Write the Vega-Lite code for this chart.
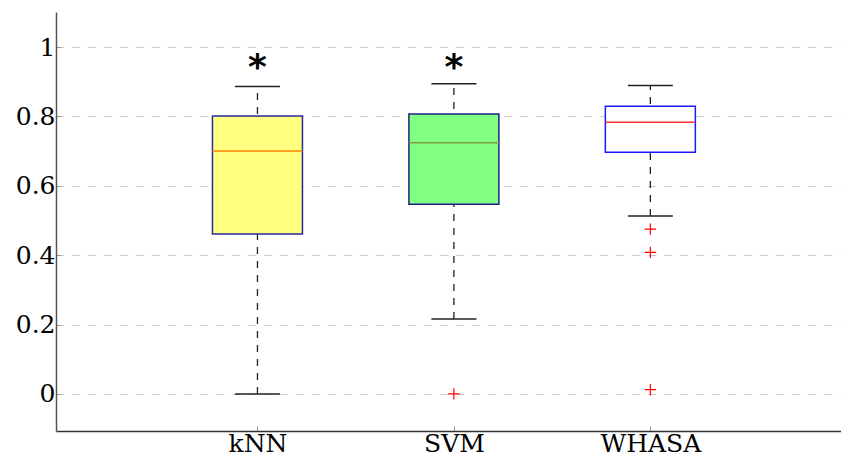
{
  "$schema": "https://vega.github.io/schema/vega-lite/v6.json",
  "width": 785,
  "height": 419,
  "autosize": {"type": "none"},
  "padding": {"left": 56, "top": 12, "right": 0, "bottom": 32},
  "config": {"view": {"stroke": null}, "font": "DejaVu Serif"},
  "datasets": {
    "boxes": [
      {"method": "kNN", "pos": 1, "lo": 0.0, "q1": 0.461, "med": 0.700, "q3": 0.801, "hi": 0.886},
      {"method": "SVM", "pos": 2, "lo": 0.216, "q1": 0.547, "med": 0.724, "q3": 0.807, "hi": 0.894},
      {"method": "WHASA", "pos": 3, "lo": 0.513, "q1": 0.697, "med": 0.783, "q3": 0.829, "hi": 0.889}
    ],
    "outliers": [
      {"method": "SVM", "pos": 2, "value": 0.0},
      {"method": "WHASA", "pos": 3, "value": 0.475},
      {"method": "WHASA", "pos": 3, "value": 0.408},
      {"method": "WHASA", "pos": 3, "value": 0.012}
    ],
    "stars": [
      {"method": "kNN", "pos": 1, "value": 0.957, "mark": "*"},
      {"method": "SVM", "pos": 2, "value": 0.957, "mark": "*"}
    ]
  },
  "layer": [
    {
      "data": {"name": "boxes"},
      "mark": {"type": "rule", "strokeDash": [7, 7], "color": "#222222", "strokeWidth": 1.3},
      "encoding": {
        "x": {
          "field": "pos", "type": "quantitative",
          "scale": {"domain": [0, 3.945], "nice": false, "zero": false},
          "axis": {
            "title": null, "values": [1, 2, 3], "grid": false,
            "labelExpr": "datum.value == 1 ? 'kNN' : datum.value == 2 ? 'SVM' : 'WHASA'",
            "labelFont": "DejaVu Serif", "labelFontWeight": "normal",
            "labelFontSize": 25, "labelColor": "#000000", "labelPadding": 5,
            "domainColor": "#333333", "domainWidth": 1.5,
            "tickSize": -5, "tickColor": "#999999"
          }
        },
        "y": {
          "field": "lo", "type": "quantitative",
          "scale": {"domain": [-0.107, 1.101], "nice": false, "zero": false},
          "axis": {
            "title": null, "values": [0, 0.2, 0.4, 0.6, 0.8, 1], "format": "~g",
            "grid": true, "gridDash": [8, 8], "gridColor": "#c8c8c8", "gridWidth": 1.2,
            "labelFont": "DejaVu Serif", "labelFontWeight": "normal",
            "labelFontSize": 25, "labelColor": "#000000", "labelPadding": 6,
            "domainColor": "#555555", "domainWidth": 1.5,
            "tickSize": -5, "tickColor": "#999999"
          }
        },
        "y2": {"field": "hi"}
      }
    },
    {
      "data": {"name": "boxes"},
      "mark": {"type": "tick", "orient": "horizontal", "size": 45, "thickness": 1.5, "color": "#222222", "opacity": 1},
      "encoding": {
        "x": {"field": "pos", "type": "quantitative", "title": null},
        "y": {"field": "lo", "type": "quantitative", "title": null}
      }
    },
    {
      "data": {"name": "boxes"},
      "mark": {"type": "tick", "orient": "horizontal", "size": 45, "thickness": 1.5, "color": "#222222", "opacity": 1},
      "encoding": {
        "x": {"field": "pos", "type": "quantitative", "title": null},
        "y": {"field": "hi", "type": "quantitative", "title": null}
      }
    },
    {
      "data": {"name": "boxes"},
      "mark": {"type": "bar", "orient": "vertical", "size": 90, "strokeWidth": 1.5, "opacity": 1},
      "encoding": {
        "x": {"field": "pos", "type": "quantitative", "title": null},
        "y": {"field": "q1", "type": "quantitative", "title": null},
        "y2": {"field": "q3"},
        "fill": {
          "field": "method", "type": "nominal", "legend": null,
          "scale": {"domain": ["kNN", "SVM", "WHASA"], "range": ["#ffff80", "#80ff80", "#ffffff"]}
        },
        "stroke": {
          "field": "method", "type": "nominal", "legend": null,
          "scale": {"domain": ["kNN", "SVM", "WHASA"], "range": ["#2a2aa0", "#20208a", "#1a1aff"]}
        }
      }
    },
    {
      "data": {"name": "boxes"},
      "mark": {"type": "tick", "orient": "horizontal", "size": 90, "thickness": 1.5, "opacity": 1},
      "encoding": {
        "x": {"field": "pos", "type": "quantitative", "title": null},
        "y": {"field": "med", "type": "quantitative", "title": null},
        "color": {
          "field": "method", "type": "nominal", "legend": null,
          "scale": {"domain": ["kNN", "SVM", "WHASA"], "range": ["#ff8000", "#80a040", "#ff3030"]}
        }
      }
    },
    {
      "data": {"name": "outliers"},
      "mark": {"type": "point", "shape": "M-1,0H1M0,-1V1", "size": 130, "filled": false, "stroke": "#ff0000", "strokeWidth": 1.2, "opacity": 1},
      "encoding": {
        "x": {"field": "pos", "type": "quantitative", "title": null},
        "y": {"field": "value", "type": "quantitative", "title": null}
      }
    },
    {
      "data": {"name": "stars"},
      "mark": {"type": "text", "fontSize": 36, "fontWeight": "bold", "baseline": "middle", "align": "center", "dy": 6, "color": "#000000", "font": "DejaVu Sans"},
      "encoding": {
        "x": {"field": "pos", "type": "quantitative", "title": null},
        "y": {"field": "value", "type": "quantitative", "title": null},
        "text": {"field": "mark"}
      }
    }
  ]
}
